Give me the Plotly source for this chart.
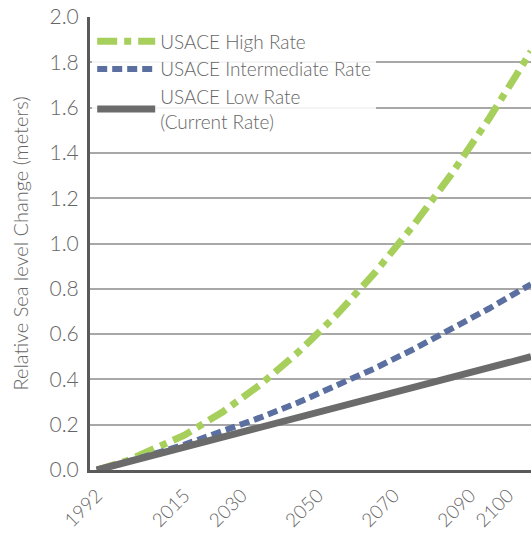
import plotly.graph_objects as go

# values (metres of relative sea level change)
years = [1992, 2000, 2015, 2025, 2035, 2045, 2055, 2065, 2075, 2085, 2095, 2106]
high_rate = [0.0, 0.041, 0.154, 0.256, 0.378, 0.522, 0.686, 0.871, 1.077, 1.304, 1.552, 1.848]
intermediate_rate = [0.0, 0.036, 0.112, 0.169, 0.232, 0.299, 0.372, 0.449, 0.532, 0.620, 0.713, 0.820]
low_rate = [0.0, 0.035, 0.101, 0.145, 0.189, 0.233, 0.277, 0.321, 0.365, 0.409, 0.453, 0.500]

tick_years = [1992, 2015, 2030, 2050, 2070, 2090, 2100]
y_ticks = [0.0, 0.2, 0.4, 0.6, 0.8, 1.0, 1.2, 1.4, 1.6, 1.8, 2.0]

C = {
    "green": "#a7cf5c",
    "blue": "#5b70a0",
    "grey": "#6b6b6b",
    "text": "#666666",
    "axis": "#5a5a5a",
    "grid": "#a8a8a8",
}
FAMILY = "Lato, 'Open Sans', sans-serif"
FONT = dict(family=FAMILY, color=C["text"], size=19, weight=300)

fig = go.Figure()
fig.add_trace(go.Scatter(
    x=years, y=high_rate, name="USACE High Rate", mode="lines",
    line=dict(color=C["green"], width=7, dash="20px,7px,7px,7px"),
))
fig.add_trace(go.Scatter(
    x=years, y=intermediate_rate, name="USACE Intermediate Rate", mode="lines",
    line=dict(color=C["blue"], width=6, dash="10px,5px"),
))
fig.add_trace(go.Scatter(
    x=years, y=low_rate, name="USACE Low Rate<br>(Current Rate)", mode="lines",
    line=dict(color=C["grey"], width=7),
))

fig.update_layout(
    width=531, height=533,
    margin=dict(l=90, r=0, t=17, b=63),
    paper_bgcolor="white", plot_bgcolor="white",
    font=FONT,
    showlegend=True,
    legend=dict(
        x=0.005, y=0.988, xanchor="left", yanchor="top",
        bgcolor="rgba(255,255,255,0.88)",
        font=dict(size=19, color=C["text"], family=FAMILY, weight=300),
        tracegroupgap=0, itemwidth=58, entrywidth=250,
    ),
    xaxis=dict(
        range=[1990.2, 2106.0],
        tickvals=tick_years, ticktext=[str(y) for y in tick_years],
        tickangle=-45, tickfont=dict(size=19), ticklabelstandoff=4,
        showgrid=False, zeroline=False,
        showline=True, linecolor=C["axis"], linewidth=3,
        ticks="", automargin=False,
    ),
    yaxis=dict(
        range=[0, 2.0],
        tickvals=y_ticks, ticktext=[f"{v:.1f}" for v in y_ticks],
        tickfont=dict(size=21), ticklabelstandoff=4,
        title=dict(text="Relative Sea level Change (meters)", font=dict(size=20), standoff=16),
        showgrid=True, gridcolor=C["grid"], gridwidth=1.5,
        zeroline=False,
        showline=True, linecolor=C["axis"], linewidth=3,
        ticks="", automargin=False,
    ),
)

# the page's default 8px body margin would push the figure off the window
fig.write_html(
    "out.html",
    config={"displayModeBar": False},
    post_script="document.body.style.margin='0';",
)
